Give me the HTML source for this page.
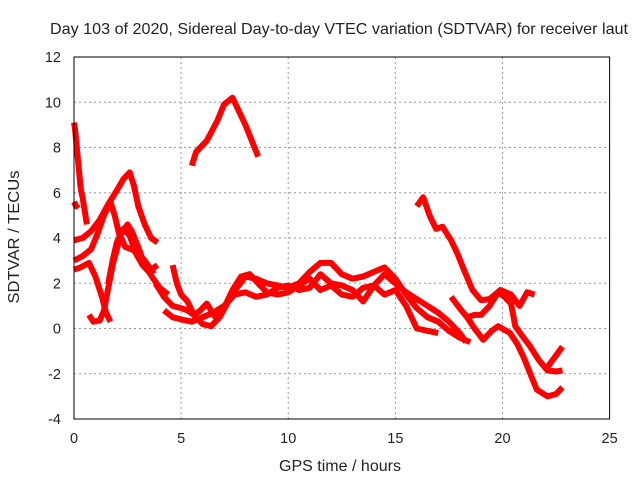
<!DOCTYPE html>
<html><head><meta charset="utf-8"><style>
body{margin:0;background:#fff;}
svg text{font-family:"Liberation Sans",sans-serif;fill:#222;}
</style></head><body>
<svg id="chart" width="640" height="480" xmlns="http://www.w3.org/2000/svg">
<g id="grid"></g>
<g id="series"></g>
<rect x="74" y="57" width="535.6" height="362" fill="none" stroke="#000" stroke-width="1"/>
<g id="ticks"></g>
<text x="339" y="34" font-size="16" text-anchor="middle" textLength="578" lengthAdjust="spacingAndGlyphs">Day 103 of 2020, Sidereal Day-to-day VTEC variation (SDTVAR) for receiver laut</text>
<text x="340" y="471" font-size="16" text-anchor="middle" textLength="122" lengthAdjust="spacingAndGlyphs">GPS time / hours</text>
<text transform="translate(19,237) rotate(-90)" font-size="16" text-anchor="middle" textLength="133" lengthAdjust="spacingAndGlyphs">SDTVAR / TECUs</text>
</svg>
<script>
const xTicks=[0,5,10,15,20,25];
const yTicks=[-4,-2,0,2,4,6,8,10,12];
const t1x=[0,0.05,0.1,0.15,0.2,0.25,0.3,0.35,0.4,0.45,0.5,0.55,0.6];
const t1y=[9.1,8.8,8.3,7.8,7.3,6.8,6.3,6.0,5.8,5.5,5.2,4.9,4.6];
const t1bx=[0,0.1,0.2];
const t1by=[5.6,5.4,5.5];
const t2x=[5.5,5.7,6.2,6.7,7.0,7.4,7.7,8.0,8.3,8.6];
const t2y=[7.2,7.8,8.3,9.2,9.9,10.2,9.6,9.0,8.3,7.6];
const t3x=[0,0.4,0.8,1.2,1.6,2.0,2.3,2.6,2.8,3.0,3.3,3.6,3.9];
const t3y=[3.9,4.0,4.3,4.8,5.5,6.1,6.6,6.9,6.3,5.4,4.6,4.0,3.8];
const t4x=[0,0.4,0.8,1.1,1.4,1.7,1.9,2.1,2.4,2.7,3.0,3.3,3.6,3.9];
const t4y=[3.0,3.2,3.5,4.2,5.0,5.6,5.0,4.2,3.6,3.5,3.3,3.0,2.6,2.8];
const t5x=[0,0.3,0.7,1.0,1.3,1.5,1.7];
const t5y=[2.6,2.7,2.9,2.3,1.4,0.7,0.3];
const t6x=[0.7,0.9,1.2,1.4,1.6,1.8,2.0,2.2,2.5,2.7,3.0,3.3,3.7,4.0,4.4];
const t6y=[0.6,0.3,0.35,0.8,1.8,2.8,3.5,4.2,4.6,4.3,3.6,2.8,2.2,1.8,1.5];
const t7x=[1.6,1.8,2.0,2.3,2.6,2.9,3.2,3.5,3.8];
const t7y=[2.0,3.0,3.8,4.4,4.1,3.3,2.8,2.5,2.6];
const t8x=[3.8,4.2,4.6,5.0,5.3,5.6,6.0,6.4,6.8,7.2,7.6,8.0,8.5,9.0,9.5,10,10.5,11,11.5,12,12.5,13,13.5,14,14.5,15,15.5,16,16.5,17,17.5,18,18.5];
const t8y=[2.0,1.4,1.0,0.9,0.8,0.6,0.2,0.1,0.5,1.2,1.8,2.3,2.2,2.0,1.9,1.8,2.0,2.5,2.9,2.9,2.4,2.2,2.3,2.5,2.7,2.2,1.5,0.9,0.5,0.3,-0.1,-0.4,-0.6];
const t9x=[4.6,4.8,5.0,5.3,5.6,5.9,6.2,6.6,7.0,7.4,7.8,8.2,8.6,9,9.5,10,10.5,11,11.5,12,12.5,13,13.5,14,14.5,15,15.5,16,16.5,17];
const t9y=[2.8,2.0,1.5,1.2,0.6,0.8,1.1,0.5,0.9,1.7,2.3,2.4,2.0,1.6,1.5,1.6,1.9,2.2,1.7,1.9,1.5,1.4,1.8,1.9,1.5,1.7,1.0,0.0,-0.1,-0.2];
const t10x=[4.2,4.6,5.0,5.5,6.0,6.5,7.0,7.5,8,8.5,9,9.5,10,10.5,11,11.5,12,12.5,13,13.5,14,14.5,15,15.5,16,16.5,17,17.5,18,18.3];
const t10y=[0.8,0.5,0.4,0.3,0.5,0.7,1.0,1.5,1.6,1.4,1.5,1.8,1.9,1.7,1.8,2.4,2.0,1.9,1.7,1.2,1.9,2.4,2.0,1.6,1.3,1.0,0.7,0.3,-0.2,-0.6];
const t11x=[16.0,16.3,16.6,16.9,17.2,17.6,17.9,18.2,18.6,19.0,19.4,19.9,20.4,20.8,21.15,21.5];
const t11y=[5.4,5.8,5.0,4.4,4.5,3.9,3.3,2.6,1.7,1.25,1.3,1.7,1.5,1.0,1.6,1.5];
const t12x=[17.6,18.0,18.35,18.7,19.0,19.4,19.8,20.1,20.4,20.6,20.9,21.3,21.7,22.1,22.5,22.8];
const t12y=[1.4,0.9,0.5,0.6,0.6,1.0,1.6,1.4,1.1,0.1,-0.3,-0.8,-1.4,-1.85,-1.9,-1.85];
const t13x=[22.1,22.5,22.8];
const t13y=[-1.7,-1.2,-0.8];
const t14x=[18.35,18.7,19.1,19.5,19.8,20.35,20.7,21.0,21.3,21.6,22.1,22.5,22.8];
const t14y=[0.5,0.0,-0.5,-0.1,0.1,-0.2,-0.7,-1.3,-2.0,-2.7,-3.0,-2.9,-2.6];
const tracks=[[t1x,t1y],[t1bx,t1by],[t2x,t2y],[t3x,t3y],[t4x,t4y],[t5x,t5y],[t6x,t6y],[t7x,t7y],[t8x,t8y],[t9x,t9y],[t10x,t10y],[t11x,t11y],[t12x,t12y],[t13x,t13y],[t14x,t14y]];
const NS='http://www.w3.org/2000/svg';
const X0=74,X1=609.6,Y0=419,Y1=57;
function sx(v){return X0+(v-0)/25*(X1-X0);}
function sy(v){return Y0-(v+4)/16*(Y0-Y1);}
const grid=document.getElementById('grid'),ticks=document.getElementById('ticks'),ser=document.getElementById('series');
function mk(tag,a,p){const e=document.createElementNS(NS,tag);for(const k in a)e.setAttribute(k,a[k]);p.appendChild(e);return e;}
xTicks.forEach(v=>{const x=sx(v);
 if(v>0&&v<25){const g=mk('line',{x1:x,x2:x,y1:Y1,y2:Y0,stroke:'#999','stroke-dasharray':'2,3'},grid);
 
 }
 const t=mk('text',{x:x,y:443,'font-size':'14.5','text-anchor':'middle'},ticks);t.textContent=v;
 
 
});
yTicks.forEach(v=>{const y=sy(v);
 if(v>-4&&v<12){const g=mk('line',{x1:X0,x2:X1,y1:y,y2:y,stroke:'#999','stroke-dasharray':'2,3'},grid);
 
 }
 const t=mk('text',{x:61,y:y+5,'font-size':'14.5','text-anchor':'end'},ticks);t.textContent=v;
 
 
});
tracks.forEach(tr=>{const pts=tr[0].map((h,i)=>sx(h).toFixed(1)+','+sy(tr[1][i]).toFixed(1)).join(' ');
 const p=mk('polyline',{points:pts,fill:'none',stroke:'#f00','stroke-width':'6','stroke-linejoin':'round','stroke-linecap':'butt'},ser);
 
 
});
</script>
</body></html>
